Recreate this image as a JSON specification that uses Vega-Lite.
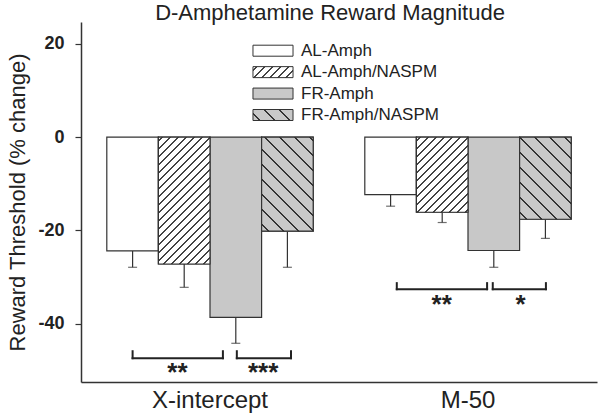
{
  "$schema": "https://vega.github.io/schema/vega-lite/v6.json",
  "width": 516,
  "height": 360,
  "autosize": {"type": "none"},
  "padding": {"left": 81, "top": 22, "right": 3, "bottom": 38},
  "background": "white",
  "config": {"font": "Liberation Sans", "view": {"stroke": null}, "axis": {"grid": false}},
  "title": {"text": "D-Amphetamine Reward Magnitude", "fontSize": 22, "fontWeight": "normal", "color": "#222", "anchor": "middle", "frame": "group", "baseline": "alphabetic", "offset": 1, "dx": -9, "dy": 21},
  "datasets": {
    "bars": [
      {"measure": "X-intercept", "group": "AL-Amph", "value": -24.4, "lo": -27.9},
      {"measure": "X-intercept", "group": "AL-Amph/NASPM", "value": -27.2, "lo": -32.2},
      {"measure": "X-intercept", "group": "FR-Amph", "value": -38.65, "lo": -44.2},
      {"measure": "X-intercept", "group": "FR-Amph/NASPM", "value": -20.15, "lo": -27.9},
      {"measure": "M-50", "group": "AL-Amph", "value": -12.3, "lo": -14.8},
      {"measure": "M-50", "group": "AL-Amph/NASPM", "value": -16.1, "lo": -18.3},
      {"measure": "M-50", "group": "FR-Amph", "value": -24.3, "lo": -27.9},
      {"measure": "M-50", "group": "FR-Amph/NASPM", "value": -17.6, "lo": -21.7}
    ],
    "sig": [
      {"x1": 1.0, "x2": 2.75, "y": -47.4, "yt": -45.9, "label": "**", "lx": 1.87, "ly": -49.5},
      {"x1": 3.02, "x2": 4.07, "y": -47.4, "yt": -45.9, "label": "***", "lx": 3.53, "ly": -49.5},
      {"x1": 6.12, "x2": 7.87, "y": -32.6, "yt": -31.3, "label": "**", "lx": 6.99, "ly": -35.0},
      {"x1": 7.98, "x2": 9.01, "y": -32.6, "yt": -31.3, "label": "*", "lx": 8.52, "ly": -35.0}
    ]
  },
  "resolve": {"scale": {"x": "independent", "y": "independent"}, "axis": {"x": "independent", "y": "independent"}},
  "layer": [
    {
      "data": {"name": "bars"},
      "encoding": {
        "x": {"field": "measure", "type": "nominal", "scale": {"domain": ["X-intercept", "M-50"], "paddingInner": 0.2, "paddingOuter": 0.1},
          "axis": {"title": null, "labelFontSize": 24, "labelColor": "#222", "ticks": false, "labelPadding": 6, "labelAngle": 0, "domainColor": "#333", "domainWidth": 1.5}},
        "xOffset": {"field": "group", "type": "nominal", "scale": {"domain": ["AL-Amph", "AL-Amph/NASPM", "FR-Amph", "FR-Amph/NASPM"], "paddingInner": 0, "paddingOuter": 0}},
        "y": {"field": "value", "type": "quantitative", "scale": {"domain": [-52.5, 24.7], "nice": false, "zero": false},
          "axis": {"title": "Reward Threshold (% change)", "values": [-40, -20, 0, 20], "labelExpr": "'' + datum.value", "labelFontSize": 18, "labelFontWeight": "bold", "labelColor": "#222", "tickSize": 6, "tickColor": "#333", "tickWidth": 1.2, "domainColor": "#333", "domainWidth": 1.5, "labelPadding": 11, "titleFontSize": 22, "titleFontWeight": "normal", "titleColor": "#222", "titlePadding": 8}}
      },
      "layer": [
        {"mark": {"type": "rule", "color": "#333", "strokeWidth": 1.2}, "encoding": {"y2": {"field": "lo"}}},
        {"mark": {"type": "tick", "orient": "horizontal", "size": 9, "thickness": 1.2, "color": "#333"}, "encoding": {"y": {"field": "lo", "type": "quantitative", "title": "Reward Threshold (% change)"}}},
        {
          "mark": {"type": "bar", "stroke": "#333", "strokeWidth": 1.2},
          "encoding": {
            "y2": {"datum": 0},
            "fill": {"condition": {"test": "indexof(datum.group, 'FR') === 0", "value": "#c8c8c8"}, "value": "#ffffff"}
          }
        },
        {
          "transform": [{"filter": "datum.measure === 'X-intercept' && datum.group === 'AL-Amph/NASPM'"}],
          "mark": {"type": "bar", "stroke": "#333", "strokeWidth": 1.2, "fill": {"gradient": "linear", "x1": 0, "y1": 0, "x2": 0.5504, "y2": 1.3529, "stops": [
            {"offset": 0, "color": "#fff"},
            {"offset": 0.015, "color": "#fff"}, {"offset": 0.015, "color": "#444"}, {"offset": 0.024, "color": "#444"}, {"offset": 0.024, "color": "#fff"},
            {"offset": 0.055, "color": "#fff"}, {"offset": 0.055, "color": "#444"}, {"offset": 0.064, "color": "#444"}, {"offset": 0.064, "color": "#fff"},
            {"offset": 0.095, "color": "#fff"}, {"offset": 0.095, "color": "#444"}, {"offset": 0.104, "color": "#444"}, {"offset": 0.104, "color": "#fff"},
            {"offset": 0.135, "color": "#fff"}, {"offset": 0.135, "color": "#444"}, {"offset": 0.144, "color": "#444"}, {"offset": 0.144, "color": "#fff"},
            {"offset": 0.175, "color": "#fff"}, {"offset": 0.175, "color": "#444"}, {"offset": 0.184, "color": "#444"}, {"offset": 0.184, "color": "#fff"},
            {"offset": 0.215, "color": "#fff"}, {"offset": 0.215, "color": "#444"}, {"offset": 0.224, "color": "#444"}, {"offset": 0.224, "color": "#fff"},
            {"offset": 0.255, "color": "#fff"}, {"offset": 0.255, "color": "#444"}, {"offset": 0.264, "color": "#444"}, {"offset": 0.264, "color": "#fff"},
            {"offset": 0.295, "color": "#fff"}, {"offset": 0.295, "color": "#444"}, {"offset": 0.304, "color": "#444"}, {"offset": 0.304, "color": "#fff"},
            {"offset": 0.335, "color": "#fff"}, {"offset": 0.335, "color": "#444"}, {"offset": 0.344, "color": "#444"}, {"offset": 0.344, "color": "#fff"},
            {"offset": 0.375, "color": "#fff"}, {"offset": 0.375, "color": "#444"}, {"offset": 0.384, "color": "#444"}, {"offset": 0.384, "color": "#fff"},
            {"offset": 0.415, "color": "#fff"}, {"offset": 0.415, "color": "#444"}, {"offset": 0.424, "color": "#444"}, {"offset": 0.424, "color": "#fff"},
            {"offset": 0.455, "color": "#fff"}, {"offset": 0.455, "color": "#444"}, {"offset": 0.464, "color": "#444"}, {"offset": 0.464, "color": "#fff"},
            {"offset": 0.495, "color": "#fff"}, {"offset": 0.495, "color": "#444"}, {"offset": 0.504, "color": "#444"}, {"offset": 0.504, "color": "#fff"},
            {"offset": 0.535, "color": "#fff"}, {"offset": 0.535, "color": "#444"}, {"offset": 0.544, "color": "#444"}, {"offset": 0.544, "color": "#fff"},
            {"offset": 0.575, "color": "#fff"}, {"offset": 0.575, "color": "#444"}, {"offset": 0.584, "color": "#444"}, {"offset": 0.584, "color": "#fff"},
            {"offset": 0.615, "color": "#fff"}, {"offset": 0.615, "color": "#444"}, {"offset": 0.624, "color": "#444"}, {"offset": 0.624, "color": "#fff"},
            {"offset": 0.655, "color": "#fff"}, {"offset": 0.655, "color": "#444"}, {"offset": 0.664, "color": "#444"}, {"offset": 0.664, "color": "#fff"},
            {"offset": 0.695, "color": "#fff"}, {"offset": 0.695, "color": "#444"}, {"offset": 0.704, "color": "#444"}, {"offset": 0.704, "color": "#fff"},
            {"offset": 0.735, "color": "#fff"}, {"offset": 0.735, "color": "#444"}, {"offset": 0.744, "color": "#444"}, {"offset": 0.744, "color": "#fff"},
            {"offset": 0.775, "color": "#fff"}, {"offset": 0.775, "color": "#444"}, {"offset": 0.784, "color": "#444"}, {"offset": 0.784, "color": "#fff"},
            {"offset": 0.815, "color": "#fff"}, {"offset": 0.815, "color": "#444"}, {"offset": 0.824, "color": "#444"}, {"offset": 0.824, "color": "#fff"},
            {"offset": 0.855, "color": "#fff"}, {"offset": 0.855, "color": "#444"}, {"offset": 0.864, "color": "#444"}, {"offset": 0.864, "color": "#fff"}
          ]}},
          "encoding": {"y2": {"datum": 0}}
        },
        {
          "transform": [{"filter": "datum.measure === 'M-50' && datum.group === 'AL-Amph/NASPM'"}],
          "mark": {"type": "bar", "stroke": "#333", "strokeWidth": 1.2, "fill": {"gradient": "linear", "x1": 0, "y1": 0, "x2": 1.2434, "y2": 1.8093, "stops": [
            {"offset": 0, "color": "#fff"},
            {"offset": 0.015, "color": "#fff"}, {"offset": 0.015, "color": "#444"}, {"offset": 0.024, "color": "#444"}, {"offset": 0.024, "color": "#fff"},
            {"offset": 0.055, "color": "#fff"}, {"offset": 0.055, "color": "#444"}, {"offset": 0.064, "color": "#444"}, {"offset": 0.064, "color": "#fff"},
            {"offset": 0.095, "color": "#fff"}, {"offset": 0.095, "color": "#444"}, {"offset": 0.104, "color": "#444"}, {"offset": 0.104, "color": "#fff"},
            {"offset": 0.135, "color": "#fff"}, {"offset": 0.135, "color": "#444"}, {"offset": 0.144, "color": "#444"}, {"offset": 0.144, "color": "#fff"},
            {"offset": 0.175, "color": "#fff"}, {"offset": 0.175, "color": "#444"}, {"offset": 0.184, "color": "#444"}, {"offset": 0.184, "color": "#fff"},
            {"offset": 0.215, "color": "#fff"}, {"offset": 0.215, "color": "#444"}, {"offset": 0.224, "color": "#444"}, {"offset": 0.224, "color": "#fff"},
            {"offset": 0.255, "color": "#fff"}, {"offset": 0.255, "color": "#444"}, {"offset": 0.264, "color": "#444"}, {"offset": 0.264, "color": "#fff"},
            {"offset": 0.295, "color": "#fff"}, {"offset": 0.295, "color": "#444"}, {"offset": 0.304, "color": "#444"}, {"offset": 0.304, "color": "#fff"},
            {"offset": 0.335, "color": "#fff"}, {"offset": 0.335, "color": "#444"}, {"offset": 0.344, "color": "#444"}, {"offset": 0.344, "color": "#fff"},
            {"offset": 0.375, "color": "#fff"}, {"offset": 0.375, "color": "#444"}, {"offset": 0.384, "color": "#444"}, {"offset": 0.384, "color": "#fff"},
            {"offset": 0.415, "color": "#fff"}, {"offset": 0.415, "color": "#444"}, {"offset": 0.424, "color": "#444"}, {"offset": 0.424, "color": "#fff"},
            {"offset": 0.455, "color": "#fff"}, {"offset": 0.455, "color": "#444"}, {"offset": 0.464, "color": "#444"}, {"offset": 0.464, "color": "#fff"},
            {"offset": 0.495, "color": "#fff"}, {"offset": 0.495, "color": "#444"}, {"offset": 0.504, "color": "#444"}, {"offset": 0.504, "color": "#fff"},
            {"offset": 0.535, "color": "#fff"}, {"offset": 0.535, "color": "#444"}, {"offset": 0.544, "color": "#444"}, {"offset": 0.544, "color": "#fff"},
            {"offset": 0.575, "color": "#fff"}, {"offset": 0.575, "color": "#444"}, {"offset": 0.584, "color": "#444"}, {"offset": 0.584, "color": "#fff"},
            {"offset": 0.615, "color": "#fff"}, {"offset": 0.615, "color": "#444"}, {"offset": 0.624, "color": "#444"}, {"offset": 0.624, "color": "#fff"}
          ]}},
          "encoding": {"y2": {"datum": 0}}
        },
        {
          "transform": [{"filter": "datum.measure === 'X-intercept' && datum.group === 'FR-Amph/NASPM'"}],
          "mark": {"type": "bar", "stroke": "#333", "strokeWidth": 1.2, "fill": {"gradient": "linear", "x1": 0, "y1": 1, "x2": 0.6736, "y2": -0.2265, "stops": [
            {"offset": 0, "color": "#c8c8c8"},
            {"offset": 0.04, "color": "#c8c8c8"}, {"offset": 0.04, "color": "#333"}, {"offset": 0.052, "color": "#333"}, {"offset": 0.052, "color": "#c8c8c8"},
            {"offset": 0.14, "color": "#c8c8c8"}, {"offset": 0.14, "color": "#333"}, {"offset": 0.152, "color": "#333"}, {"offset": 0.152, "color": "#c8c8c8"},
            {"offset": 0.24, "color": "#c8c8c8"}, {"offset": 0.24, "color": "#333"}, {"offset": 0.252, "color": "#333"}, {"offset": 0.252, "color": "#c8c8c8"},
            {"offset": 0.34, "color": "#c8c8c8"}, {"offset": 0.34, "color": "#333"}, {"offset": 0.352, "color": "#333"}, {"offset": 0.352, "color": "#c8c8c8"},
            {"offset": 0.44, "color": "#c8c8c8"}, {"offset": 0.44, "color": "#333"}, {"offset": 0.452, "color": "#333"}, {"offset": 0.452, "color": "#c8c8c8"},
            {"offset": 0.54, "color": "#c8c8c8"}, {"offset": 0.54, "color": "#333"}, {"offset": 0.552, "color": "#333"}, {"offset": 0.552, "color": "#c8c8c8"},
            {"offset": 0.64, "color": "#c8c8c8"}, {"offset": 0.64, "color": "#333"}, {"offset": 0.652, "color": "#333"}, {"offset": 0.652, "color": "#c8c8c8"},
            {"offset": 0.74, "color": "#c8c8c8"}, {"offset": 0.74, "color": "#333"}, {"offset": 0.752, "color": "#333"}, {"offset": 0.752, "color": "#c8c8c8"},
            {"offset": 0.84, "color": "#c8c8c8"}, {"offset": 0.84, "color": "#333"}, {"offset": 0.852, "color": "#333"}, {"offset": 0.852, "color": "#c8c8c8"},
            {"offset": 0.94, "color": "#c8c8c8"}, {"offset": 0.94, "color": "#333"}, {"offset": 0.952, "color": "#333"}, {"offset": 0.952, "color": "#c8c8c8"}
          ]}},
          "encoding": {"y2": {"datum": 0}}
        },
        {
          "transform": [{"filter": "datum.measure === 'M-50' && datum.group === 'FR-Amph/NASPM'"}],
          "mark": {"type": "bar", "stroke": "#333", "strokeWidth": 1.2, "fill": {"gradient": "linear", "x1": 0, "y1": 1, "x2": 0.8236, "y2": -0.3099, "stops": [
            {"offset": 0, "color": "#c8c8c8"},
            {"offset": 0.04, "color": "#c8c8c8"}, {"offset": 0.04, "color": "#333"}, {"offset": 0.052, "color": "#333"}, {"offset": 0.052, "color": "#c8c8c8"},
            {"offset": 0.14, "color": "#c8c8c8"}, {"offset": 0.14, "color": "#333"}, {"offset": 0.152, "color": "#333"}, {"offset": 0.152, "color": "#c8c8c8"},
            {"offset": 0.24, "color": "#c8c8c8"}, {"offset": 0.24, "color": "#333"}, {"offset": 0.252, "color": "#333"}, {"offset": 0.252, "color": "#c8c8c8"},
            {"offset": 0.34, "color": "#c8c8c8"}, {"offset": 0.34, "color": "#333"}, {"offset": 0.352, "color": "#333"}, {"offset": 0.352, "color": "#c8c8c8"},
            {"offset": 0.44, "color": "#c8c8c8"}, {"offset": 0.44, "color": "#333"}, {"offset": 0.452, "color": "#333"}, {"offset": 0.452, "color": "#c8c8c8"},
            {"offset": 0.54, "color": "#c8c8c8"}, {"offset": 0.54, "color": "#333"}, {"offset": 0.552, "color": "#333"}, {"offset": 0.552, "color": "#c8c8c8"},
            {"offset": 0.64, "color": "#c8c8c8"}, {"offset": 0.64, "color": "#333"}, {"offset": 0.652, "color": "#333"}, {"offset": 0.652, "color": "#c8c8c8"},
            {"offset": 0.74, "color": "#c8c8c8"}, {"offset": 0.74, "color": "#333"}, {"offset": 0.752, "color": "#333"}, {"offset": 0.752, "color": "#c8c8c8"},
            {"offset": 0.84, "color": "#c8c8c8"}, {"offset": 0.84, "color": "#333"}, {"offset": 0.852, "color": "#333"}, {"offset": 0.852, "color": "#c8c8c8"}
          ]}},
          "encoding": {"y2": {"datum": 0}}
        }
      ]
    },
    {
      "mark": {"type": "rule", "color": "#333", "strokeWidth": 1.2},
      "encoding": {"y": {"datum": 0, "type": "quantitative", "axis": null, "scale": {"domain": [-52.5, 24.7], "nice": false, "zero": false}}}
    },
    {
      "data": {"name": "sig"},
      "layer": [
        {"mark": {"type": "rule", "color": "#222", "strokeWidth": 2, "strokeCap": "square"},
         "encoding": {"x": {"field": "x1", "type": "quantitative", "scale": {"domain": [0, 10], "nice": false, "zero": false}, "axis": null}, "x2": {"field": "x2"},
           "y": {"field": "y", "type": "quantitative", "axis": null, "scale": {"domain": [-52.5, 24.7], "nice": false, "zero": false}}}},
        {"mark": {"type": "rule", "color": "#222", "strokeWidth": 2, "strokeCap": "square"},
         "encoding": {"x": {"field": "x1", "type": "quantitative", "scale": {"domain": [0, 10], "nice": false, "zero": false}, "axis": null},
           "y": {"field": "y", "type": "quantitative", "axis": null, "scale": {"domain": [-52.5, 24.7], "nice": false, "zero": false}}, "y2": {"field": "yt"}}},
        {"mark": {"type": "rule", "color": "#222", "strokeWidth": 2, "strokeCap": "square"},
         "encoding": {"x": {"field": "x2", "type": "quantitative", "scale": {"domain": [0, 10], "nice": false, "zero": false}, "axis": null},
           "y": {"field": "y", "type": "quantitative", "axis": null, "scale": {"domain": [-52.5, 24.7], "nice": false, "zero": false}}, "y2": {"field": "yt"}}},
        {"mark": {"type": "text", "fontSize": 26, "fontWeight": "bold", "color": "#222", "align": "center", "baseline": "alphabetic", "dy": 13},
         "encoding": {"x": {"field": "lx", "type": "quantitative", "scale": {"domain": [0, 10], "nice": false, "zero": false}, "axis": null},
           "y": {"field": "ly", "type": "quantitative", "axis": null, "scale": {"domain": [-52.5, 24.7], "nice": false, "zero": false}},
           "text": {"field": "label"}}}
      ]
    },
    {
      "data": {"name": "bars"},
      "transform": [{"filter": "datum.measure === 'X-intercept'"}],
      "encoding": {
        "y": {"field": "group", "type": "nominal", "axis": null, "scale": {"type": "point", "domain": ["AL-Amph", "AL-Amph/NASPM", "FR-Amph", "FR-Amph/NASPM"], "range": [28.7, 93], "padding": 0}}
      },
      "layer": [
        {"transform": [{"filter": "datum.group === 'AL-Amph'"}],
         "mark": {"type": "bar", "orient": "horizontal", "height": 11, "fill": "#ffffff", "stroke": "#333", "strokeWidth": 1},
         "encoding": {"x": {"datum": 3.333, "type": "quantitative", "scale": {"domain": [0, 10], "nice": false, "zero": false}, "axis": null}, "x2": {"datum": 4.109}}},
        {"transform": [{"filter": "datum.group === 'FR-Amph'"}],
         "mark": {"type": "bar", "orient": "horizontal", "height": 11, "fill": "#c8c8c8", "stroke": "#333", "strokeWidth": 1},
         "encoding": {"x": {"datum": 3.333, "type": "quantitative", "scale": {"domain": [0, 10], "nice": false, "zero": false}, "axis": null}, "x2": {"datum": 4.109}}},
        {"transform": [{"filter": "datum.group === 'AL-Amph/NASPM'"}],
         "mark": {"type": "bar", "orient": "horizontal", "height": 11, "stroke": "#333", "strokeWidth": 1, "fill": {"gradient": "linear", "x1": 0, "y1": 0, "x2": 4.6485, "y2": 1.2783, "stops": [
           {"offset": 0, "color": "#fff"},
           {"offset": 0.015, "color": "#fff"}, {"offset": 0.015, "color": "#444"}, {"offset": 0.024, "color": "#444"}, {"offset": 0.024, "color": "#fff"},
           {"offset": 0.055, "color": "#fff"}, {"offset": 0.055, "color": "#444"}, {"offset": 0.064, "color": "#444"}, {"offset": 0.064, "color": "#fff"},
           {"offset": 0.095, "color": "#fff"}, {"offset": 0.095, "color": "#444"}, {"offset": 0.104, "color": "#444"}, {"offset": 0.104, "color": "#fff"},
           {"offset": 0.135, "color": "#fff"}, {"offset": 0.135, "color": "#444"}, {"offset": 0.144, "color": "#444"}, {"offset": 0.144, "color": "#fff"},
           {"offset": 0.175, "color": "#fff"}, {"offset": 0.175, "color": "#444"}, {"offset": 0.184, "color": "#444"}, {"offset": 0.184, "color": "#fff"},
           {"offset": 0.215, "color": "#fff"}, {"offset": 0.215, "color": "#444"}, {"offset": 0.224, "color": "#444"}, {"offset": 0.224, "color": "#fff"},
           {"offset": 0.255, "color": "#fff"}, {"offset": 0.255, "color": "#444"}, {"offset": 0.264, "color": "#444"}, {"offset": 0.264, "color": "#fff"}
         ]}},
         "encoding": {"x": {"datum": 3.333, "type": "quantitative", "scale": {"domain": [0, 10], "nice": false, "zero": false}, "axis": null}, "x2": {"datum": 4.109}}},
        {"transform": [{"filter": "datum.group === 'FR-Amph/NASPM'"}],
         "mark": {"type": "bar", "orient": "horizontal", "height": 11, "stroke": "#333", "strokeWidth": 1, "fill": {"gradient": "linear", "x1": 0, "y1": 1, "x2": 3.4863, "y2": 0.0413, "stops": [
           {"offset": 0, "color": "#c8c8c8"},
           {"offset": 0.04, "color": "#c8c8c8"}, {"offset": 0.04, "color": "#333"}, {"offset": 0.052, "color": "#333"}, {"offset": 0.052, "color": "#c8c8c8"},
           {"offset": 0.14, "color": "#c8c8c8"}, {"offset": 0.14, "color": "#333"}, {"offset": 0.152, "color": "#333"}, {"offset": 0.152, "color": "#c8c8c8"},
           {"offset": 0.24, "color": "#c8c8c8"}, {"offset": 0.24, "color": "#333"}, {"offset": 0.252, "color": "#333"}, {"offset": 0.252, "color": "#c8c8c8"},
           {"offset": 0.34, "color": "#c8c8c8"}, {"offset": 0.34, "color": "#333"}, {"offset": 0.352, "color": "#333"}, {"offset": 0.352, "color": "#c8c8c8"}
         ]}},
         "encoding": {"x": {"datum": 3.333, "type": "quantitative", "scale": {"domain": [0, 10], "nice": false, "zero": false}, "axis": null}, "x2": {"datum": 4.109}}},
        {"mark": {"type": "text", "align": "left", "baseline": "middle", "fontSize": 17, "color": "#222"},
         "encoding": {"x": {"datum": 4.264, "type": "quantitative", "scale": {"domain": [0, 10], "nice": false, "zero": false}, "axis": null}, "text": {"field": "group"}}}
      ]
    }
  ]
}
